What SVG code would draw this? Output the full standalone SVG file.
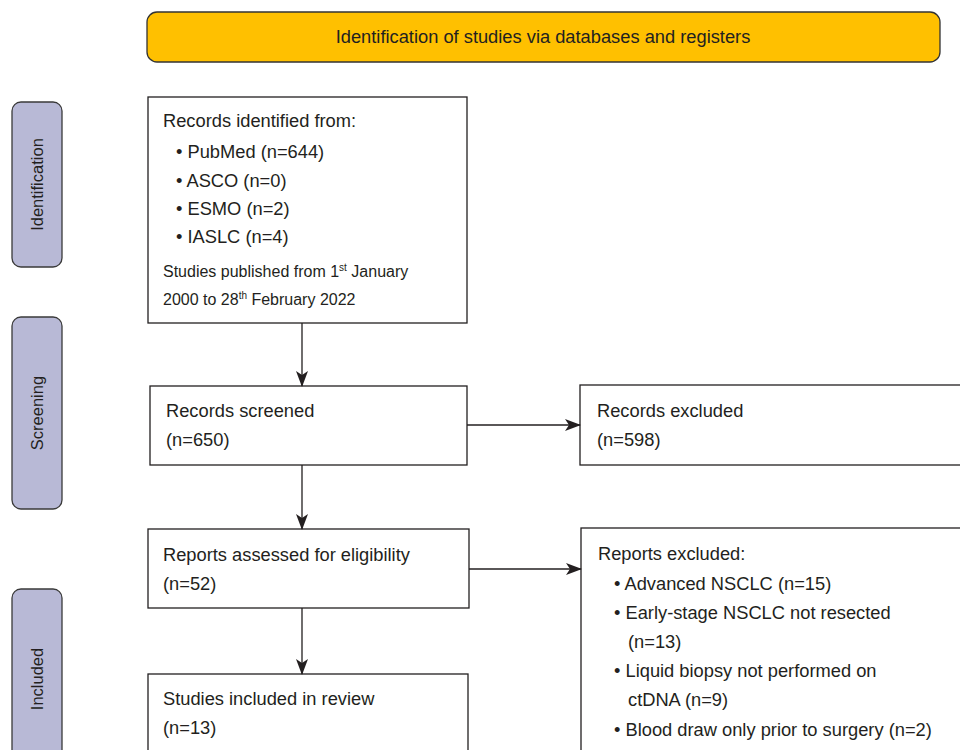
<svg xmlns="http://www.w3.org/2000/svg" width="960" height="750" viewBox="0 0 960 750">
<style>
  text { font-family: "Liberation Sans", Arial, sans-serif; fill: #231f20; }
  .t { font-size: 18.3px; }
  .s { font-size: 16px; }
  .sup { font-size: 10px; }
  .box { fill: #ffffff; stroke: #231f20; stroke-width: 1.3; }
  .side { fill: #b8b9d6; stroke: #3a3a3a; stroke-width: 1.3; }
  .side-t { font-size: 16.5px; text-anchor: middle; }
  .edge { fill: none; stroke: #231f20; stroke-width: 1.3; }
</style>
<defs>
  <marker id="arr" viewBox="0 0 16 12" refX="15" refY="6" markerWidth="16" markerHeight="12" markerUnits="userSpaceOnUse" orient="auto">
    <path d="M0,0 L16,6 L0,12 L4,6 Z" fill="#231f20"/>
  </marker>
</defs>
<rect width="960" height="750" fill="#ffffff"/>

<g id="banner">
  <rect x="147" y="12" width="793" height="50" rx="10" ry="10" fill="#ffc000" stroke="#333333" stroke-width="1.3"/>
  <text class="t" x="543" y="43" text-anchor="middle">Identification of studies via databases and registers</text>
</g>

<g id="side-identification">
  <rect class="side" x="12" y="102" width="50" height="165" rx="9" ry="9"/>
  <text class="side-t" transform="translate(43,184.5) rotate(-90)">Identification</text>
</g>
<g id="side-screening">
  <rect class="side" x="12" y="317" width="50" height="192" rx="9" ry="9"/>
  <text class="side-t" transform="translate(43,413) rotate(-90)">Screening</text>
</g>
<g id="side-included">
  <rect class="side" x="12" y="589" width="50" height="180" rx="9" ry="9"/>
  <text class="side-t" transform="translate(43,679) rotate(-90)">Included</text>
</g>

<g id="records-identified">
  <rect class="box" x="148" y="97" width="319" height="226"/>
  <text class="t" x="163" y="127">Records identified from:</text>
  <text class="t" x="176" y="158">• PubMed (n=644)</text>
  <text class="t" x="176" y="187">• ASCO (n=0)</text>
  <text class="t" x="176" y="215">• ESMO (n=2)</text>
  <text class="t" x="176" y="243">• IASLC (n=4)</text>
  <text class="s" x="163" y="277">Studies published from 1<tspan class="sup" dy="-6">st</tspan><tspan dy="6"> January</tspan></text>
  <text class="s" x="163" y="305">2000 to 28<tspan class="sup" dy="-6">th</tspan><tspan dy="6"> February 2022</tspan></text>
</g>

<g id="records-screened">
  <rect class="box" x="150" y="386" width="317" height="79"/>
  <text class="t" x="166" y="417">Records screened</text>
  <text class="t" x="166" y="446">(n=650)</text>
</g>

<g id="records-excluded">
  <rect class="box" x="580" y="385" width="400" height="80"/>
  <text class="t" x="597" y="417">Records excluded</text>
  <text class="t" x="597" y="446">(n=598)</text>
</g>

<g id="reports-assessed">
  <rect class="box" x="148" y="529" width="321" height="79"/>
  <text class="t" x="163" y="561">Reports assessed for eligibility</text>
  <text class="t" x="163" y="590">(n=52)</text>
</g>

<g id="reports-excluded">
  <rect class="box" x="581" y="528" width="400" height="240"/>
  <text class="t" x="598" y="560">Reports excluded:</text>
  <text class="t" x="614" y="590">• Advanced NSCLC (n=15)</text>
  <text class="t" x="614" y="619">• Early-stage NSCLC not resected</text>
  <text class="t" x="628" y="648">(n=13)</text>
  <text class="t" x="614" y="677">• Liquid biopsy not performed on</text>
  <text class="t" x="628" y="706">ctDNA (n=9)</text>
  <text class="t" x="614" y="736">• Blood draw only prior to surgery (n=2)</text>
</g>

<g id="studies-included">
  <rect class="box" x="148" y="674" width="320" height="100"/>
  <text class="t" x="163" y="705">Studies included in review</text>
  <text class="t" x="163" y="734">(n=13)</text>
</g>

<g id="connectors">
  <line class="edge" x1="302" y1="323" x2="302" y2="386" marker-end="url(#arr)"/>
  <line class="edge" x1="302" y1="465" x2="302" y2="529" marker-end="url(#arr)"/>
  <line class="edge" x1="302" y1="608" x2="302" y2="674" marker-end="url(#arr)"/>
  <line class="edge" x1="467" y1="425" x2="580" y2="425" marker-end="url(#arr)"/>
  <line class="edge" x1="469" y1="569" x2="581" y2="569" marker-end="url(#arr)"/>
</g>
</svg>
